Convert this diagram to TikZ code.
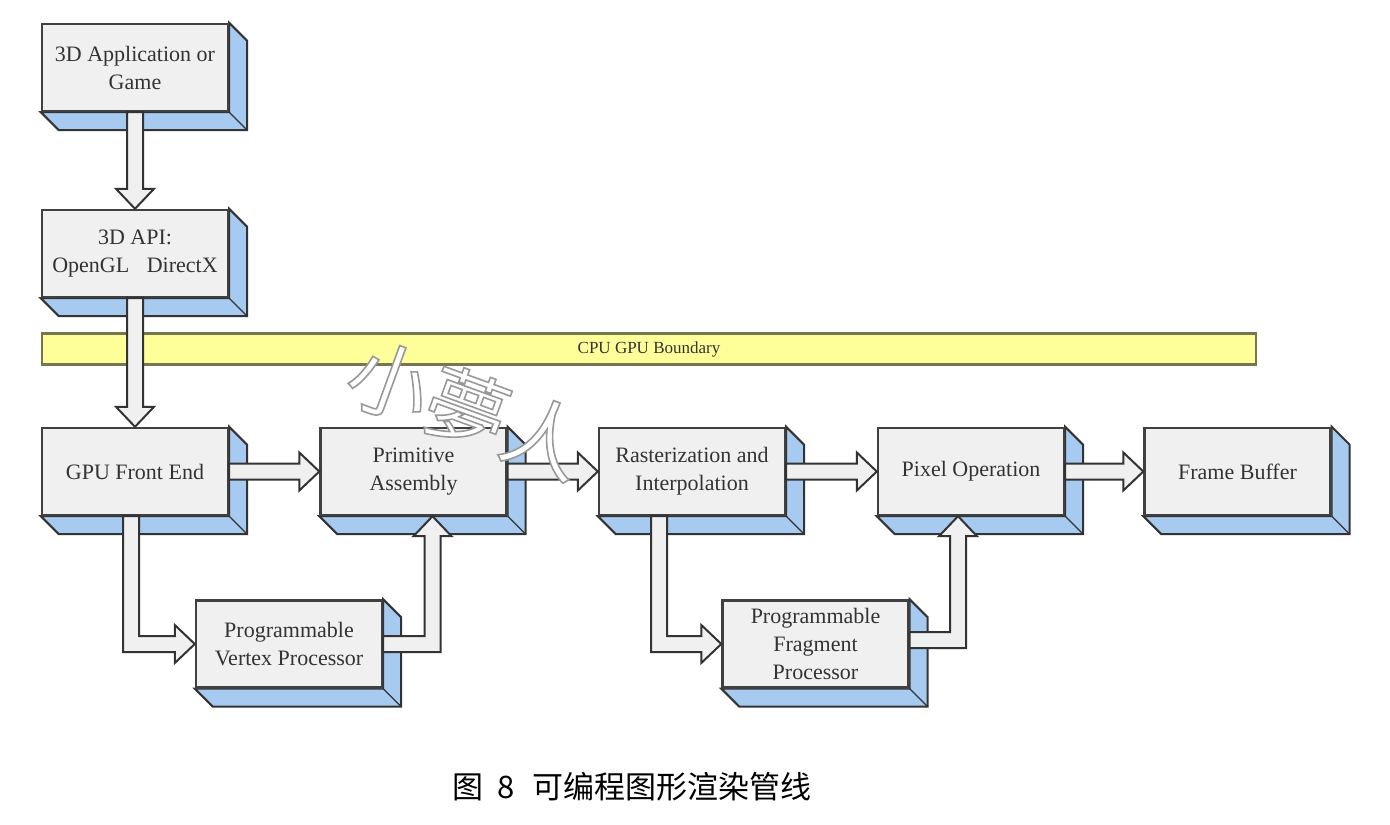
\documentclass[tikz,border=0pt]{standalone}
\usepackage{fontspec}
\setmainfont{Liberation Serif}
\newfontfamily\cjk{Noto Sans CJK SC}
\usetikzlibrary{calc, backgrounds}

\definecolor{facegray}{HTML}{F0F0F0}
\definecolor{sideblue}{HTML}{A6CAF0}
\definecolor{bandyellow}{HTML}{FFFF99}
\definecolor{bandedge}{HTML}{767650}

% block arrow sizes
\newcommand{\shaftw}{4pt}
\newcommand{\headw}{9.5pt}
\newcommand{\headl}{10pt}

\newcommand{\blockright}[2]{\draw[blockarrow] let \p1=(#1), \p2=(#2) in
    (\x1,\y1+\shaftw) -- (\x2-\headl,\y1+\shaftw) -- (\x2-\headl,\y1+\headw) -- (\x2,\y1)
    -- (\x2-\headl,\y1-\headw) -- (\x2-\headl,\y1-\shaftw) -- (\x1,\y1-\shaftw) -- cycle;}
\newcommand{\blockdown}[2]{\draw[blockarrow] let \p1=(#1), \p2=(#2) in
    (\x1-\shaftw,\y1) -- (\x1-\shaftw,\y2+\headl) -- (\x1-\headw,\y2+\headl) -- (\x1,\y2)
    -- (\x1+\headw,\y2+\headl) -- (\x1+\shaftw,\y2+\headl) -- (\x1+\shaftw,\y1) -- cycle;}
\newcommand{\blockdownright}[2]{\draw[blockarrow] let \p1=(#1), \p2=(#2) in
    (\x1-\shaftw,\y1) -- (\x1-\shaftw,\y2-\shaftw) -- (\x2-\headl,\y2-\shaftw) -- (\x2-\headl,\y2-\headw)
    -- (\x2,\y2) -- (\x2-\headl,\y2+\headw) -- (\x2-\headl,\y2+\shaftw) -- (\x1+\shaftw,\y2+\shaftw)
    -- (\x1+\shaftw,\y1) -- cycle;}
\newcommand{\blockrightup}[2]{\draw[blockarrow] let \p1=(#1), \p2=(#2) in
    (\x1,\y1-\shaftw) -- (\x2+\shaftw,\y1-\shaftw) -- (\x2+\shaftw,\y2-\headl) -- (\x2+\headw,\y2-\headl)
    -- (\x2,\y2) -- (\x2-\headw,\y2-\headl) -- (\x2-\shaftw,\y2-\headl) -- (\x2-\shaftw,\y1+\shaftw)
    -- (\x1,\y1+\shaftw) -- cycle;}

\begin{document}
\begin{tikzpicture}[x=0.5pt, y=-0.5pt,
    stage/.style={draw=black!75, line width=1.2pt, fill=facegray, minimum width=93pt,
        minimum height=43.5pt, inner sep=0pt, align=center,
        font=\fontsize{11}{14}\selectfont, text=black!80},
    side/.style={fill=sideblue, draw=black!80, line width=1pt, line join=miter},
    blockarrow/.style={fill=facegray, draw=black!80, line width=1pt, line join=miter}]
    \useasboundingbox (0,0) rectangle (1390,824);

    % pipeline stages
    \node[stage] (app) at (135,67.5) {3D Application or\\Game};
    \node[stage] (api) at (135,253.5) {3D API:\\OpenGL\hspace{0.8em}DirectX};
    \node[stage] (fe) at (135,471.5) {GPU Front End};
    \node[stage] (pa) at (413.5,471.5) {Primitive\\Assembly};
    \node[stage] (ri) at (692,471.5) {Rasterization and\\Interpolation};
    \node[stage] (po) at (971,471.5) {Pixel Operation};
    \node[stage] (fb) at (1237.5,471.5) {Frame Buffer};
    \node[stage] (vp) at (289,644) {Programmable\\Vertex Processor};
    \node[stage] (fp) at (815.5,644) {Programmable\\Fragment\\Processor};

    % 3D sides
    \begin{scope}[on background layer]
        \foreach \n in {app,api,fe,pa,ri,po,fb,vp,fp}{
            \draw[side] (\n.north east) -- ++(18,18) -- ($(\n.south east)+(18,18)$)
                -- ($(\n.south west)+(18,18)$) -- (\n.south west) -- (\n.south east) -- cycle;
            \draw[black!80, line width=0.6pt] (\n.south east) -- ++(18,18);
        }
    \end{scope}

    \node[draw=bandedge, line width=1.2pt, fill=bandyellow, minimum width=607pt,
        minimum height=15.5pt, inner sep=0pt, font=\fontsize{8.5}{10}\selectfont,
        text=black!80] (bound) at (649,349) {CPU GPU Boundary};

    % arrows
    \blockdown{app.south}{api.north}
    \blockdown{api.south}{fe.north}
    \blockright{fe.east}{pa.west}
    \blockright{pa.east}{ri.west}
    \blockright{ri.east}{po.west}
    \blockright{po.east}{fb.west}
    \blockdownright{$(fe.south)+(-4,0)$}{vp.west}
    \blockrightup{vp.east}{$(pa.south)+(19,0)$}
    \blockdownright{$(ri.south)+(-33,0)$}{fp.west}
    \blockrightup{$(fp.east)+(0,-4)$}{$(po.south)+(-13,0)$}

    % watermark
    \node[rotate=-20, font=\cjk\fontsize{41}{41}\selectfont] (mark) at (467,409)
        {\color{white}\special{pdf:code 2 Tr 0.8 w 0.6 G}小夢人\special{pdf:code 0 Tr}};

    \node[font=\cjk\fontsize{15.5}{18}\selectfont] (cap) at (632,787)
        {图\hspace{0.45em}8\hspace{0.6em}可编程图形渲染管线};
\end{tikzpicture}
\end{document}
